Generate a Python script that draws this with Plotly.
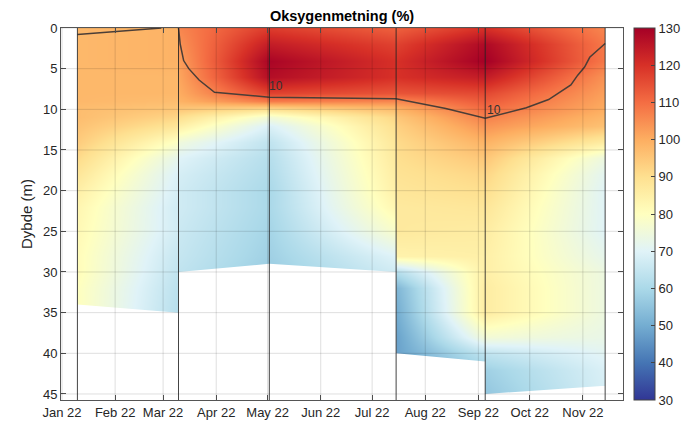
import plotly.graph_objects as go
from datetime import datetime, timedelta

# ---------------- data ----------------
station_dates = ["2022-01-10", "2022-03-10", "2022-05-02", "2022-07-15", "2022-09-05", "2022-11-14"]

depths = [0, 2, 4, 6, 8, 9, 10, 11, 12, 14, 16, 18, 20, 22, 25, 28, 30, 32, 35, 38, 40, 42, 46]

ox_jan10 = [98, 98, 98, 98, 98, 98, 97, 97, 96, 94, 91, 88, 85, 83, 82, 81, 81, 80, 80, 80, 80, 80, 80]
ox_mar10_before = [99, 99, 99, 98, 98, 97, 95, 92, 88, 79, 72, 69, 68, 67, 67, 65, 64, 63, 62, 62, 62, 62, 62]
ox_mar10_after = [106, 104, 102, 101, 100, 99, 95, 90, 85, 75, 70, 68, 67, 67, 66, 65, 64, 63, 62, 62, 62, 62, 62]
ox_may02 = [118, 124, 129, 127, 117, 108, 90, 76, 69, 64, 62, 61, 60, 60, 59, 58, 57, 57, 57, 57, 57, 57, 57]
ox_jul15_before = [112, 117, 120, 120, 114, 106, 97, 92, 90, 88, 87, 86, 85, 83, 78, 70, 67, 65, 63, 62, 62, 62, 62]
ox_jul15_after = [112, 117, 120, 120, 114, 106, 99, 95, 93, 91, 90, 89, 88, 87, 87, 84, 62, 52, 50, 48, 48, 48, 48]
ox_sep05 = [120, 128, 130, 124, 116, 113, 110, 107, 104, 99, 95, 92, 90, 88, 86, 85, 85, 86, 86, 76, 64, 58, 55]
ox_nov14 = [106, 108, 108, 104, 102, 101, 100, 98, 96, 86, 74, 71, 70, 70, 70, 72, 74, 74, 74, 73, 71, 69, 68]

profiles_before = [ox_jan10, ox_mar10_before, ox_may02, ox_jul15_before, ox_sep05, ox_nov14]
profiles_after = [ox_jan10, ox_mar10_after, ox_may02, ox_jul15_after, ox_sep05, ox_nov14]

# bottom depth of each interval between consecutive stations (start, end)
interval_bottom_start = [34, 30, 29, 40, 45]
interval_bottom_end = [35, 29, 30, 41, 44]

# 10-isoline
iso_a_dates = ["2022-01-10", "2022-02-01", "2022-02-28"]
iso_a_depth = [0.8, 0.45, 0.0]
iso_b_dates = ["2022-03-10", "2022-03-11", "2022-03-13", "2022-03-16", "2022-03-22", "2022-03-31",
               "2022-05-02", "2022-07-15", "2022-08-13", "2022-09-05", "2022-09-29", "2022-10-12",
               "2022-10-25", "2022-10-29", "2022-11-02", "2022-11-05", "2022-11-14"]
iso_b_depth = [0, 2.0, 4.0, 5.0, 6.4, 7.9, 8.5, 8.7, 9.9, 11.1, 9.8, 8.8, 7.0, 5.8, 4.8, 3.6, 1.9]
iso_label_dates = ["2022-05-06", "2022-09-10"]
iso_label_depth = [7.1, 10.1]
iso_label_text = ["10", "10"]

month_ticks = ["2022-%02d-01" % m for m in range(1, 12)]
month_labels = ["Jan 22", "Feb 22", "Mar 22", "Apr 22", "May 22", "Jun 22",
                "Jul 22", "Aug 22", "Sep 22", "Oct 22", "Nov 22"]
depth_ticks = [0, 5, 10, 15, 20, 25, 30, 35, 40, 45]

x_range = ["2021-12-31 10:00", "2022-11-24 10:00"]
y_range = [45.74, 0]

colors = ['rgb(49,54,149)', 'rgb(69,117,180)', 'rgb(116,173,209)', 'rgb(171,217,233)',
          'rgb(224,243,248)', 'rgb(255,255,191)', 'rgb(254,224,144)', 'rgb(253,174,97)',
          'rgb(244,109,67)', 'rgb(215,48,39)', 'rgb(165,0,38)']
colorscale = [[i / (len(colors) - 1), c] for i, c in enumerate(colors)]

# ---------------- build ----------------
FONT = "Liberation Sans, Arial, Helvetica, sans-serif"
dt = lambda s: datetime.strptime(s, "%Y-%m-%d")
eps = timedelta(hours=1)

W, H = 683, 426
L, R, T, B = 61, 60, 28, 26

col_x, cols = [], []
for s, pb, pa in zip(station_dates, profiles_before, profiles_after):
    col_x.append(dt(s) - eps); cols.append(pb)
    col_x.append(dt(s) + eps); cols.append(pa)
z = [[c[j] for c in cols] for j in range(len(depths))]

plot_w = W - L - R

fig = go.Figure()
fig.add_trace(go.Heatmap(
    x=col_x, y=depths, z=z, zsmooth='best', zmin=30, zmax=130,
    colorscale=colorscale, hoverinfo='skip',
    colorbar=dict(thickness=21, thicknessmode='pixels', len=1, lenmode='fraction',
                  x=11 / plot_w + 1, xanchor='left', xpad=0, ypad=0, y=0.5, yanchor='middle',
                  outlinewidth=1, outlinecolor='#444', tickvals=list(range(30, 131, 10)),
                  ticks='inside', ticklen=4, tickcolor='#444',
                  tickfont=dict(family=FONT, size=13, color='#262626'))))

# white mask outside sampled water column
ybot = y_range[0] + 2
mx, my = [], []
x0 = dt("2021-12-25"); x1 = dt("2022-12-05")
mx += [x0, dt(station_dates[0]), dt(station_dates[0]), x0, x0, None]
my += [-2, -2, ybot, ybot, -2, None]
for i in range(len(station_dates) - 1):
    a, b = dt(station_dates[i]), dt(station_dates[i + 1])
    mx += [a, b, b, a, a, None]
    my += [interval_bottom_start[i], interval_bottom_end[i], ybot, ybot, interval_bottom_start[i], None]
mx += [dt(station_dates[-1]), x1, x1, dt(station_dates[-1]), dt(station_dates[-1])]
my += [-2, -2, ybot, ybot, -2]
fig.add_trace(go.Scatter(x=mx, y=my, mode='lines', fill='toself', fillcolor='white',
                         line=dict(width=0, color='white'), hoverinfo='skip'))

# isoline
fig.add_trace(go.Scatter(x=iso_a_dates + [None] + iso_b_dates, y=iso_a_depth + [None] + iso_b_depth,
                         mode='lines', line=dict(color='rgb(75,62,55)', width=1.5), hoverinfo='skip'))
for d, v, t in zip(iso_label_dates, iso_label_depth, iso_label_text):
    fig.add_annotation(x=d, y=v, text=t, showarrow=False, xref='x', yref='y',
                       font=dict(family=FONT, size=12, color='#333'))

# grid lines drawn on top (like MATLAB)
for m in month_ticks:
    fig.add_shape(type='line', xref='x', yref='paper', x0=m, x1=m, y0=0, y1=1,
                  line=dict(color='rgba(0,0,0,0.13)', width=1), layer='above')
for d in depth_ticks:
    fig.add_shape(type='line', xref='paper', yref='y', x0=0, x1=1, y0=d, y1=d,
                  line=dict(color='rgba(0,0,0,0.13)', width=1), layer='above')
# station lines
for s in station_dates:
    fig.add_shape(type='line', xref='x', yref='paper', x0=s, x1=s, y0=0, y1=1,
                  line=dict(color='rgba(35,35,35,0.85)', width=1), layer='above')

fig.update_layout(
    width=W, height=H, margin=dict(l=L, r=R, t=T, b=B, autoexpand=False),
    paper_bgcolor='white', plot_bgcolor='white', showlegend=False,
    title=dict(text='<b>Oksygenmetning (%)</b>', x=0.5, xref='paper', xanchor='center',
               y=1 - 15.5 / H, yref='container', yanchor='middle',
               font=dict(family=FONT, size=14.5, color='#000')),
    xaxis=dict(type='date', range=x_range, tickvals=month_ticks, ticktext=month_labels,
               ticks='inside', ticklen=5, tickcolor='#555', showline=True, linecolor='#555',
               linewidth=1, mirror='ticks', showgrid=False, zeroline=False, automargin=False,
               tickfont=dict(family=FONT, size=13, color='#262626')),
    yaxis=dict(range=y_range, tickvals=depth_ticks, ticks='inside', ticklen=5, tickcolor='#555',
               showline=True, linecolor='#555', linewidth=1, mirror='ticks', showgrid=False,
               zeroline=False, automargin=False, tickfont=dict(family=FONT, size=13, color='#262626'),
               title=dict(text='Dybde (m)', standoff=6, font=dict(family=FONT, size=15, color='#262626'))),
)

fig.write_html("out.html", config={'displayModeBar': False},
               post_script="document.body.style.margin='0px';document.body.style.overflow='hidden';")
